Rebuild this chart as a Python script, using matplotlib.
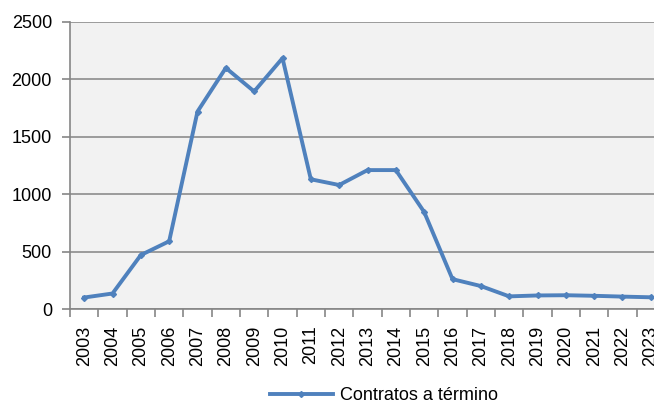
import matplotlib
matplotlib.use("Agg")
import matplotlib.pyplot as plt
from matplotlib.ticker import FixedLocator, NullFormatter

plt.rcParams['font.family'] = ['Liberation Sans', 'DejaVu Sans']

years = [str(y) for y in range(2003, 2024)]
values = [100, 135, 470, 590, 1720, 2100, 1895, 2185, 1130, 1080, 1210,
          1210, 845, 260, 200, 110, 118, 120, 115, 108, 102]
series_name = "Contratos a término"
yticks = [0, 500, 1000, 1500, 2000, 2500]

fig = plt.figure(figsize=(6.54, 4.05), dpi=100)
ax = fig.add_axes([70/654, 96/405, 595/654, 287/405])
ax.set_facecolor('#f2f2f2')

x = list(range(len(years)))
ax.plot(x, values, color='#4f81bd', lw=2.8, marker='D', ms=3, label=series_name, zorder=3)

ax.set_xlim(-0.5, len(years) - 0.5)
ax.set_ylim(0, 2500)
ax.set_yticks(yticks)
ax.set_xticks(x)
ax.set_xticklabels(years, rotation=90, fontsize=13)
ax.xaxis.set_minor_locator(FixedLocator([i - 0.5 for i in range(len(years) + 1)]))
ax.xaxis.set_minor_formatter(NullFormatter())
ax.tick_params(axis='x', which='major', length=0, pad=12)
ax.tick_params(axis='x', which='minor', length=6, color='#868686', width=1.2)
ax.tick_params(axis='y', labelsize=13, length=6, color='#868686', width=1.2, pad=7)

ax.grid(axis='y', color='#8c8c8c', lw=1.2)
ax.set_axisbelow(True)
for s in ['top', 'right']:
    ax.spines[s].set_visible(False)
for s in ['left', 'bottom']:
    ax.spines[s].set_color('#868686')
    ax.spines[s].set_linewidth(1.2)

fig.legend(loc='center', bbox_to_anchor=(384/654, 1 - 396/405), frameon=False,
           fontsize=13, handlelength=3.5, handletextpad=0.4)

fig.savefig('out.png', dpi=100)
